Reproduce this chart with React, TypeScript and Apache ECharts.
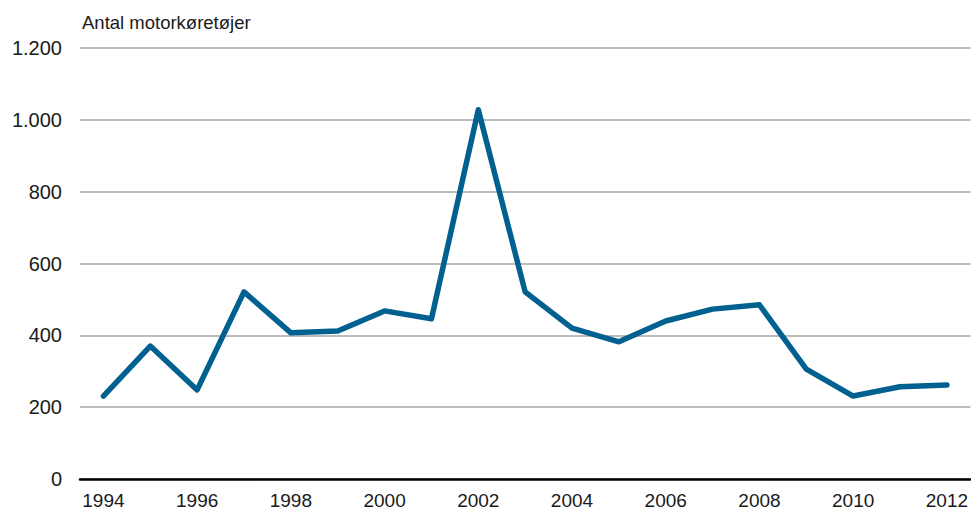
import React, { useEffect, useRef } from "react";
import * as echarts from "echarts";

const years = ["1994","1995","1996","1997","1998","1999","2000","2001","2002","2003","2004","2005","2006","2007","2008","2009","2010","2011","2012"];
const vehicles = [231, 370, 248, 521, 407, 412, 468, 446, 1028, 521, 420, 382, 440, 473, 485, 306, 231, 257, 262];
const yTitle = "Antal motorkøretøjer";

const FONT = "'Liberation Sans', Arial, sans-serif";

export default function App() {
  const ref = useRef<HTMLDivElement>(null);
  useEffect(() => {
    const chart = echarts.init(ref.current!, null, { renderer: "svg" });
    chart.setOption({
      animation: false,
      backgroundColor: "#ffffff",
      graphic: [
        {
          type: "text",
          left: 82,
          top: 13,
          style: { text: yTitle, font: `18.5px ${FONT}`, fill: "#1a1a1a" },
        },
      ],
      grid: { left: 80, right: 0, top: 48, bottom: 36, containLabel: false },
      xAxis: {
        type: "category",
        data: years,
        boundaryGap: true,
        axisLine: { show: true, lineStyle: { color: "#000", width: 2.5 } },
        axisTick: { show: false },
        axisLabel: {
          interval: 1,
          color: "#1a1a1a",
          fontFamily: FONT,
          fontSize: 19,
          margin: 12,
        },
      },
      yAxis: {
        type: "value",
        min: 0,
        max: 1200,
        interval: 200,
        axisLine: { show: false },
        axisTick: { show: false },
        splitLine: { show: true, lineStyle: { color: "#a6a6a6", width: 1.5 } },
        axisLabel: {
          color: "#1a1a1a",
          fontFamily: FONT,
          fontSize: 20,
          margin: 18,
          formatter: (v: number) => v.toLocaleString("da-DK").replace(/,/g, "."),
        },
      },
      series: [
        {
          type: "line",
          data: vehicles,
          symbol: "none",
          lineStyle: { color: "#00608f", width: 5.5, cap: "round", join: "round" },
        },
      ],
    });
    return () => chart.dispose();
  }, []);
  return <div ref={ref} style={{ width: 971, height: 515, position: "absolute", left: 0, top: 0 }} />;
}
